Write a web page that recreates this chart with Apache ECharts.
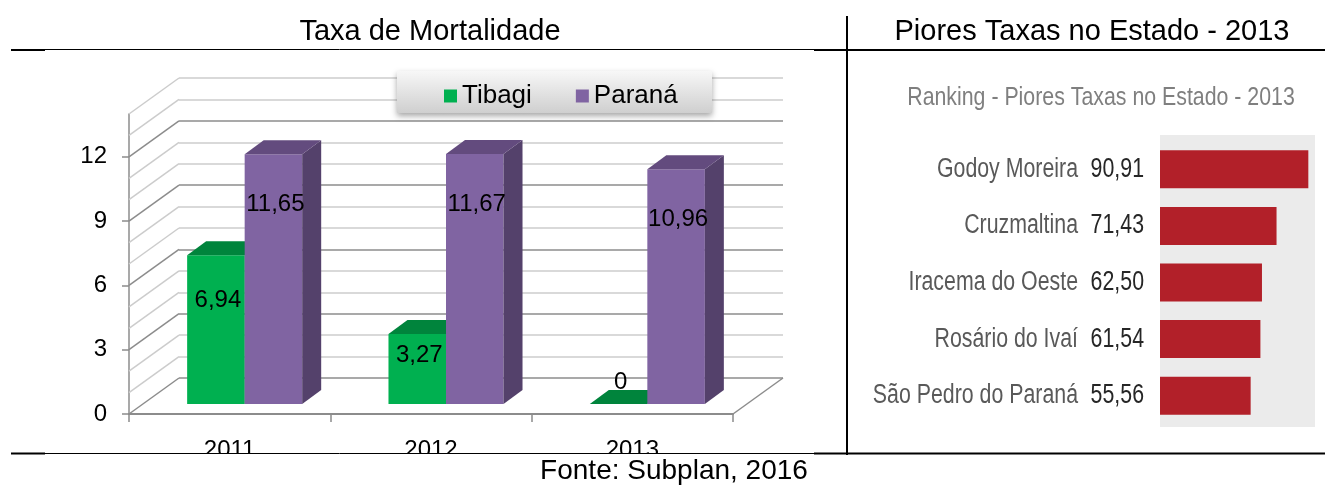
<!DOCTYPE html>
<html>
<head>
<meta charset="utf-8">
<script src="https://cdn.jsdelivr.net/npm/echarts@6/dist/echarts.min.js"></script>
<style>
  html, body { margin: 0; padding: 0; background: #fff; }
  #chart { width: 1325px; height: 486px; }
</style>
</head>
<body>
<div id="chart"></div>
<script>
// Taxa de Mortalidade (left, fake 3D columns)
const years = ['2011', '2012', '2013'];
const tibagi = [6.94, 3.27, 0];
const parana = [11.65, 11.67, 10.96];
const yTicks = [0, 3, 6, 9, 12];
const yMax = 14;

// Ranking - Piores Taxas no Estado - 2013 (right)
const cities = ['Godoy Moreira', 'Cruzmaltina', 'Iracema do Oeste', 'Rosário do Ivaí', 'São Pedro do Paraná'];
const rates = [90.91, 71.43, 62.50, 61.54, 55.56];

const SANS = '"Liberation Sans", Arial, sans-serif';
const NARROW_SCALE = 0.79; // Liberation Sans squeezed, looks like Arial Narrow

// depth of the 3D box (wall) and of the columns
const WALL_DX = 50, WALL_DY = -36;
const BAR_DX = 15, BAR_DY = -10;
const SIDE_DX = 19, SIDE_DY = -14;

function fmt(v) {
    return v === 0 ? '0' : v.toFixed(2).replace('.', ',');
}

function wallRender(params, api) {
    const cs = params.coordSys;
    const children = [];
    for (let v = 0; v <= yMax; v++) {
        const y = api.coord([0, v])[1];
        children.push({
            type: 'line',
            shape: { x1: cs.x, y1: y, x2: cs.x + WALL_DX, y2: y + WALL_DY },
            style: { stroke: v % 3 === 0 ? '#8c8c8c' : '#cccccc', lineWidth: 1.5 }
        });
    }
    // right edge of the floor
    children.push({
        type: 'line',
        shape: { x1: cs.x + cs.width, y1: cs.y + cs.height, x2: cs.x + cs.width + WALL_DX, y2: cs.y + cs.height + WALL_DY },
        style: { stroke: '#8c8c8c', lineWidth: 1.5 }
    });
    return { type: 'group', children: children };
}

function barRender(side, faceColor, topColor, sideColor) {
    return function (params, api) {
        const cat = api.value(0);
        const val = api.value(1);
        const base = api.coord([cat, 0]);
        const top = api.coord([cat, val]);
        const w = api.size([1, 0])[0] * 0.2857;
        const x0 = base[0] + BAR_DX - (side === 0 ? w : 0);
        const x1 = x0 + w;
        const yB = base[1] + BAR_DY;
        const yT = top[1] + BAR_DY;
        const children = [];
        if (yB - yT > 0.5) {
            children.push({
                type: 'rect',
                shape: { x: x0, y: yT, width: w, height: yB - yT },
                style: { fill: faceColor }
            });
            children.push({
                type: 'polygon',
                shape: { points: [[x1, yT], [x1 + SIDE_DX, yT + SIDE_DY], [x1 + SIDE_DX, yB + SIDE_DY], [x1, yB]] },
                style: { fill: sideColor }
            });
        }
        children.push({
            type: 'polygon',
            shape: { points: [[x0, yT], [x1, yT], [x1 + SIDE_DX, yT + SIDE_DY], [x0 + SIDE_DX, yT + SIDE_DY]] },
            style: { fill: topColor }
        });
        const h = yB - yT;
        const ly = h > 50 ? yT + Math.min(50, 0.3 * h) : yT - 22;
        children.push({
            type: 'text',
            z2: 10,
            style: {
                text: fmt(val), x: (x0 + x1) / 2 + 2, y: ly,
                align: 'center', verticalAlign: 'middle',
                fontSize: 24, fontFamily: SANS, fill: '#000'
            }
        });
        return { type: 'group', children: children };
    };
}

// names and values beside the ranking bars
function rankLabelRender(params, api) {
    const idx = api.value(1);
    const p = api.coord([0, idx]);
    const mk = (text, x, color) => ({
        type: 'text', x: x, y: p[1], scaleX: NARROW_SCALE,
        style: {
            text: text, x: 0, y: 0, align: 'right', verticalAlign: 'middle',
            fontSize: 27, fontFamily: SANS, fill: color
        }
    });
    return {
        type: 'group',
        children: [
            mk(fmt(rates[idx]), p[0] - 16, '#262626'),
            mk(cities[idx], p[0] - 82, '#595959')
        ]
    };
}

function textEl(text, x, y, size, color, scaleX) {
    return {
        type: 'text', z: 70, x: x, y: y, scaleX: scaleX || 1,
        style: {
            text: text, x: 0, y: 0, align: 'center', verticalAlign: 'middle',
            fontSize: size, fontFamily: SANS, fill: color || '#000'
        }
    };
}

function lineEl(x1, y1, x2, y2, w) {
    return { type: 'line', z: 60, shape: { x1: x1, y1: y1, x2: x2, y2: y2 }, style: { stroke: '#000', lineWidth: w } };
}

const chart = echarts.init(document.getElementById('chart'));

const options = {
    animation: false,
    backgroundColor: '#fff',
    legend: {
        data: ['Tibagi', 'Paraná'],
        left: 439,
        top: 78,
        icon: 'rect',
        itemWidth: 13,
        itemHeight: 13,
        itemGap: 44,
        textStyle: { fontSize: 26, fontFamily: SANS, color: '#000' },
        selectedMode: false
    },
    grid: [
        { left: 129, top: 114, width: 604, height: 300 },
        { left: 129 + WALL_DX, top: 114 + WALL_DY, width: 604, height: 300 },
        { left: 1160, top: 141, width: 155, height: 283 }
    ],
    xAxis: [
        {
            type: 'category', gridIndex: 0, data: years,
            axisLine: { lineStyle: { color: '#8c8c8c', width: 2 } },
            axisTick: { show: true, alignWithLabel: false, length: 8, lineStyle: { color: '#8c8c8c', width: 1.5 } },
            axisLabel: { fontSize: 24, fontFamily: SANS, color: '#000', margin: 24 },
            splitLine: { show: false }
        },
        { type: 'value', gridIndex: 1, show: false },
        { type: 'value', gridIndex: 2, min: 0, max: 95, show: false }
    ],
    yAxis: [
        {
            type: 'value', gridIndex: 0, min: 0, max: yMax,
            axisLine: { show: true, lineStyle: { color: '#8c8c8c', width: 1.5 } },
            axisTick: { show: true, customValues: yTicks, length: 7, lineStyle: { color: '#8c8c8c', width: 1.5 } },
            axisLabel: { customValues: yTicks, fontSize: 24, fontFamily: SANS, color: '#000', margin: 22 },
            splitLine: { show: false }
        },
        {
            type: 'value', gridIndex: 1, min: 0, max: yMax, interval: 1,
            axisLine: { show: false }, axisTick: { show: false }, axisLabel: { show: false },
            splitLine: { show: true, lineStyle: { color: ['#8c8c8c', '#cccccc', '#cccccc'], width: 1.5 } }
        },
        {
            type: 'category', gridIndex: 2, data: cities, inverse: true,
            axisLine: { show: false }, axisTick: { show: false }, axisLabel: { show: false }
        }
    ],
    series: [
        {
            type: 'custom', name: 'wall', xAxisIndex: 0, yAxisIndex: 0,
            data: [[0, 0]], renderItem: wallRender, silent: true, z: 1
        },
        {
            type: 'custom', name: 'Tibagi', xAxisIndex: 0, yAxisIndex: 0,
            itemStyle: { color: '#00B050' },
            encode: { x: 0, y: 1 },
            data: years.map((y, i) => [i, tibagi[i]]),
            renderItem: barRender(0, '#00B050', '#00843C', '#00843C'),
            z: 2
        },
        {
            type: 'custom', name: 'Paraná', xAxisIndex: 0, yAxisIndex: 0,
            itemStyle: { color: '#8064A2' },
            encode: { x: 0, y: 1 },
            data: years.map((y, i) => [i, parana[i]]),
            renderItem: barRender(1, '#8064A2', '#634B7E', '#54416B'),
            z: 3
        },
        {
            type: 'bar', name: 'Ranking', xAxisIndex: 2, yAxisIndex: 2,
            data: rates, barWidth: 38,
            itemStyle: { color: '#B22029' },
            silent: true
        },
        {
            type: 'custom', name: 'rankLabels', xAxisIndex: 2, yAxisIndex: 2,
            encode: { x: 0, y: 1 },
            data: cities.map((c, i) => [0, i]),
            renderItem: rankLabelRender, silent: true, clip: false
        }
    ],
    graphic: [
        // legend box
        {
            type: 'rect', z: 3,
            shape: { x: 397, y: 71, width: 315, height: 42 },
            style: {
                fill: new echarts.graphic.LinearGradient(0, 0, 0, 1, [
                    { offset: 0, color: '#f7f7f7' },
                    { offset: 1, color: '#cfcfcf' }
                ]),
                shadowBlur: 6, shadowOffsetY: 3, shadowColor: 'rgba(0,0,0,0.35)'
            }
        },
        // gray panel of the ranking
        { type: 'rect', z: 0, shape: { x: 1160, y: 135, width: 155, height: 292 }, style: { fill: '#ebebeb' } },
        // clip of the year labels
        { type: 'rect', z: 55, shape: { x: 100, y: 454, width: 745, height: 8 }, style: { fill: '#fff' } },
        // table lines
        lineEl(11, 49.5, 1325, 49.5, 1),
        lineEl(11, 50, 45, 50, 2),
        lineEl(814, 50, 1325, 50, 2),
        lineEl(847, 16, 847, 455, 2),
        lineEl(11, 453.5, 1325, 453.5, 1),
        lineEl(11, 453.5, 45, 453.5, 2),
        lineEl(814, 453.5, 1325, 453.5, 2),
        // texts
        textEl('Taxa de Mortalidade', 430, 32, 29),
        textEl('Piores Taxas no Estado - 2013', 1092, 32, 29),
        textEl('Ranking - Piores Taxas no Estado - 2013', 1101, 98, 26, '#7f7f7f', 0.82),
        textEl('Fonte: Subplan, 2016', 674, 471, 28)
    ]
};

chart.setOption(options);
</script>
</body>
</html>
